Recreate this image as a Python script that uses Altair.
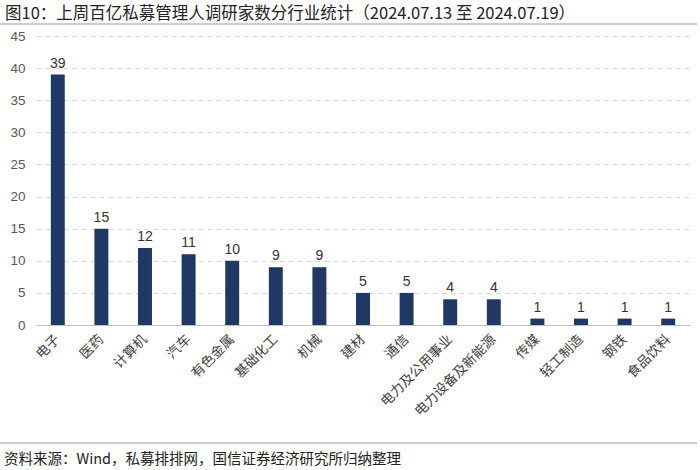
import altair as alt
import pandas as pd

categories = ["电子", "医药", "计算机", "汽车", "有色金属", "基础化工", "机械", "建材", "通信",
              "电力及公用事业", "电力设备及新能源", "传媒", "轻工制造", "钢铁", "食品饮料"]
values = [39, 15, 12, 11, 10, 9, 9, 5, 5, 4, 4, 1, 1, 1, 1]
title_text = "图10：上周百亿私募管理人调研家数分行业统计（2024.07.13 至 2024.07.19）"
source_text = "资料来源：Wind，私募排排网，国信证券经济研究所归纳整理"

FONT = "Noto Sans CJK SC"
df = pd.DataFrame({"cat": categories, "val": values})

x = alt.X("cat:N", sort=categories, title=None,
          scale=alt.Scale(paddingInner=0.68, paddingOuter=0.34),
          axis=alt.Axis(labelAngle=-45, labelAlign="right", labelBaseline="middle",
                        labelFont=FONT, labelFontSize=13.5, labelColor="#404040",
                        ticks=False, domainColor="#BFBFBF", labelPadding=12, grid=False))
y = alt.Y("val:Q", title=None,
          scale=alt.Scale(domain=[0, 45], nice=False),
          axis=alt.Axis(values=list(range(0, 50, 5)), grid=True, gridDash=[5, 4],
                        gridColor="#D9D9D9", domain=False, ticks=False,
                        labelFont="Liberation Sans", labelFontSize=13.5, labelColor="#595959",
                        labelPadding=11))

bars = alt.Chart(df).mark_bar(color="#203864").encode(x=x, y=y)
labels = alt.Chart(df).mark_text(dy=-11, font="Liberation Sans", fontSize=14,
                                 color="#333333").encode(x=x, y=y, text="val:Q")

tdf = pd.DataFrame({"t": [title_text]})
title = alt.Chart(tdf).mark_text(align="left", baseline="middle", font=FONT,
                                 fontSize=16.5, color="#222222").encode(
    x=alt.value(-31), y=alt.value(-22), text="t:N")
sdf = pd.DataFrame({"t": [source_text]})
source = alt.Chart(sdf).mark_text(align="left", baseline="middle", font=FONT,
                                  fontSize=14.5, color="#222222").encode(
    x=alt.value(-32), y=alt.value(424), text="t:N")
line1 = alt.Chart(tdf).mark_rule(color="#9A9A9A", strokeWidth=1).encode(
    x=alt.value(-36), x2=alt.value(661), y=alt.value(-12))
line2 = alt.Chart(tdf).mark_rule(color="#9A9A9A", strokeWidth=1).encode(
    x=alt.value(-36), x2=alt.value(661), y=alt.value(407))

chart = alt.layer(bars, labels, title, source, line1, line2).properties(
    width=654, height=289,
    padding={"left": 36, "top": 36, "right": 10, "bottom": 145},
    autosize=alt.AutoSizeParams(type="none"),
    background="white",
).configure_view(stroke=None)

chart.save("out.html", embed_options={"renderer": "svg", "actions": False})
